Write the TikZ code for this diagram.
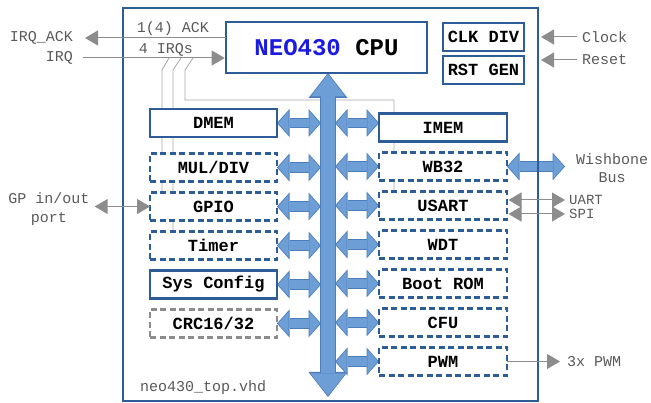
\documentclass[tikz,border=0pt]{standalone}
\usepackage{fontspec}
\setmainfont{Liberation Mono}
\usetikzlibrary{arrows.meta,positioning,backgrounds}
\definecolor{boxblue}{HTML}{2E5C96}
\definecolor{busfill}{HTML}{6E9ED6}
\definecolor{busedge}{HTML}{4B7DBA}
\definecolor{sigline}{HTML}{8C8C8C}
\definecolor{neoblue}{HTML}{1A1AE0}

\begin{document}
\begin{tikzpicture}[x=1pt, y=-1pt,
    blk/.style={draw=boxblue, line width=2.6pt, fill=white, minimum width=127pt,
                minimum height=28pt, inner sep=0pt, outer sep=0pt,
                font=\fontsize{17}{18}\selectfont\bfseries},
    dblk/.style={blk, dash pattern=on 6pt off 3.5pt},
    lbl/.style={inner sep=0pt, text=black!65, font=\fontsize{15}{18.5}\selectfont},
    sig/.style={draw=sigline, line width=1pt, -{Triangle[width=15pt,length=13pt]}},
    bisig/.style={draw=sigline, line width=1pt,
                  {Triangle[width=15pt,length=13pt]}-{Triangle[width=15pt,length=13pt]}},
    irq/.style={draw=black!35, line width=0.8pt},
    busarr/.style={draw=busfill, line width=8.5pt, shorten <=1.2pt, shorten >=1.2pt,
                   {Triangle[width=24pt,length=10.5pt,line width=0pt]}-{Triangle[width=24pt,length=10.5pt,line width=0pt]},
                   preaction={draw=busedge, line width=10.5pt, shorten <=0pt, shorten >=0pt,
                   {Triangle[width=28pt,length=12.5pt,line width=0pt]}-{Triangle[width=28pt,length=12.5pt,line width=0pt]}}},
    mainbus/.style={draw=busfill, line width=14pt, shorten <=1.5pt, shorten >=1.5pt,
                   {Triangle[width=35pt,length=22pt,line width=0pt]}-{Triangle[width=35pt,length=22pt,line width=0pt]},
                   preaction={draw=busedge, line width=16pt, shorten <=0pt, shorten >=0pt,
                   {Triangle[width=39pt,length=25pt,line width=0pt]}-{Triangle[width=39pt,length=25pt,line width=0pt]}}}
  ]
  \useasboundingbox (0,0) rectangle (651,403);

  % top level frame
  \node[draw=boxblue, line width=2pt, minimum width=415pt, minimum height=393pt] (top) at (330.5,204.5) {};

  % cpu, clock and reset
  \node[blk, minimum width=201pt, minimum height=51pt, font=\fontsize{24}{26}\selectfont\bfseries] (cpu) at (326.5,47.5) {\textcolor{neoblue}{NEO430} CPU};
  \node[blk, minimum width=81pt] (clkdiv) at (483.5,37) {CLK DIV};
  \node[blk, minimum width=81pt, below=5pt of clkdiv] (rstgen) {RST GEN};

  % left modules
  \node[blk] (dmem) at (213.5,123) {DMEM};
  \node[dblk] (muldiv) at (213.5,167.5) {MUL/DIV};
  \node[dblk, below=11pt of muldiv] (gpio) {GPIO};
  \node[dblk, below=11pt of gpio] (timer) {Timer};
  \node[blk, below=11pt of timer] (syscfg) {Sys Config};
  \node[dblk, draw=sigline, below=11pt of syscfg] (crc) {CRC16/32};

  % right modules
  \node[blk, minimum width=128pt] (imem) at (443,127.5) {IMEM};
  \node[dblk, minimum width=128pt, below=11pt of imem] (wb32) {WB32};
  \node[dblk, minimum width=128pt, below=11pt of wb32] (usart) {USART};
  \node[dblk, minimum width=128pt, below=11pt of usart] (wdt) {WDT};
  \node[dblk, minimum width=128pt, below=11pt of wdt] (bootrom) {Boot ROM};
  \node[dblk, minimum width=128pt, below=11pt of bootrom] (cfu) {CFU};
  \node[dblk, minimum width=128pt, below=11pt of cfu] (pwm) {PWM};

  % outside labels
  \node[lbl, anchor=east] (irqacktxt) at (73,38) {IRQ\_ACK};
  \node[lbl, anchor=east] (irqtxt) at (73,58) {IRQ};
  \node[lbl] (acktxt) at (173,29) {1(4) ACK};
  \node[lbl] (irqntxt) at (166,50) {4 IRQs};
  \node[lbl, align=center] (gptxt) at (49,209) {GP in/out\\port};
  \node[lbl, anchor=west] (clocktxt) at (582,37) {Clock};
  \node[lbl, anchor=west] (resettxt) at (582,60) {Reset};
  \node[lbl, align=center] (wbtxt) at (612,168) {Wishbone\\Bus};
  \node[lbl, anchor=west, font=\fontsize{14}{14}\selectfont] (uarttxt) at (569,200) {UART};
  \node[lbl, anchor=west, font=\fontsize{14}{14}\selectfont] (spitxt) at (569,214) {SPI};
  \node[lbl, anchor=west] (pwmtxt) at (567,362) {3x PWM};
  \node[lbl, anchor=west] (filetxt) at (140,388) {neo430\_top.vhd};

  \coordinate (busend) at (328,397);
  \coordinate (busl) at (321,0);
  \coordinate (busr) at (335,0);
  \coordinate (wbend) at (565,0);
  \coordinate (irqa) at (162,70);
  \coordinate (irqb) at (173,70);
  \coordinate (irqc) at (185,70);
  \coordinate (irqd) at (394,100);

  \begin{scope}[on background layer]
    % interrupt sources
    \draw[irq] (169,58) -- (irqa) -- (irqa |- gpio.north);
    \draw[irq] (181,58) -- (irqb) -- (irqb |- timer.north);
    \draw[irq] (193,58) -- (irqc) |- (irqd) -- (irqd |- usart.north);
    % processor bus
    \draw[mainbus] (busend |- cpu.south) -- (busend);
    \foreach \m in {dmem,muldiv,gpio,timer,syscfg,crc}
      \draw[busarr] (\m.east) -- (busl |- \m.east);
    \draw[busarr] (imem.west |- dmem.east) -- (busr |- dmem.east);
    \foreach \m in {wb32,usart,wdt,bootrom,cfu,pwm}
      \draw[busarr] (\m.west) -- (busr |- \m.west);
    \draw[busarr] (wb32.east) -- (wbend |- wb32.east);
  \end{scope}

  % external signals
  \draw[sig] (cpu.west |- irqacktxt) -- ([xshift=12pt]irqacktxt.east);
  \draw[sig, shorten <=10pt, shorten >=1.3pt] (irqtxt.east) -- (cpu.west |- irqtxt);
  \draw[bisig, shorten <=5pt] (gpio.west -| gptxt.east) -- (gpio.west);
  \draw[sig, shorten <=5pt, shorten >=2pt] (clocktxt.west) -- (top.east |- clocktxt.west);
  \draw[sig, shorten <=5pt, shorten >=2pt] (resettxt.west) -- (top.east |- resettxt.west);
  \draw[bisig, shorten <=1.5pt, shorten >=4pt] (usart.east |- uarttxt.west) -- (uarttxt.west);
  \draw[bisig, shorten <=1.5pt, shorten >=4pt] (usart.east |- spitxt.west) -- (spitxt.west);
  \draw[sig, shorten >=7pt] (pwm.east) -- (pwm.east -| pwmtxt.west);
\end{tikzpicture}
\end{document}
